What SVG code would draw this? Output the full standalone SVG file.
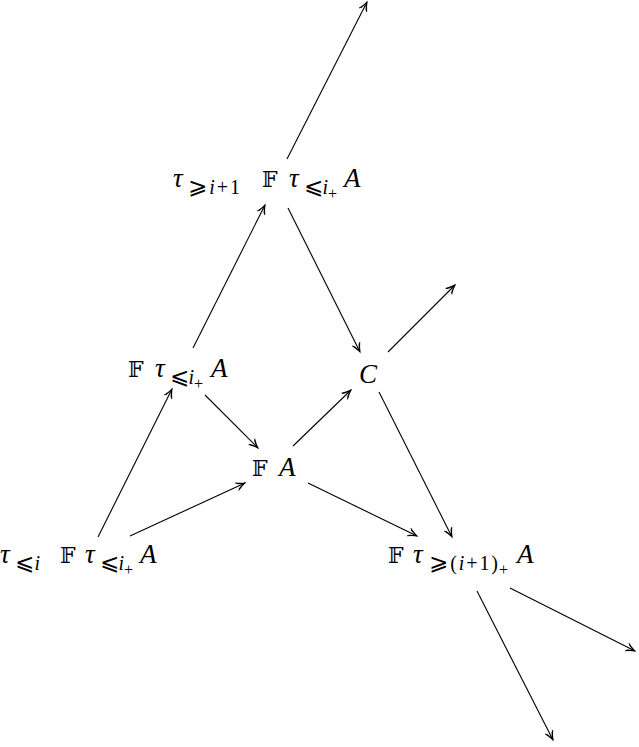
<svg xmlns="http://www.w3.org/2000/svg" width="639" height="747" viewBox="0 0 639 747">
<style>
text{font-family:"Liberation Serif","DejaVu Serif",serif;fill:#000}
.m{font-size:27px;font-style:italic}
.s{font-size:20px;font-style:italic}
.ss{font-size:16px}
.r{font-style:normal}
.bb{font-family:"DejaVu Serif","DejaVu Sans",serif;font-size:22px;font-style:normal}
.sym{font-family:"DejaVu Sans","Liberation Serif",serif;font-style:normal;font-size:23px}
line{stroke:#000;stroke-width:1.1;fill:none;marker-end:url(#ah)}
</style>
<defs>
<marker id="ah" markerUnits="userSpaceOnUse" markerWidth="14" markerHeight="12" refX="0" refY="0" viewBox="-10 -6 12 12" orient="auto" overflow="visible">
<path d="M-9,-4.2 Q-4,-1.2 0,0 Q-4,1.2 -9,4.2 M-8,-3 Q-4,-0.8 0,0 M-8,3 Q-4,0.8 0,0" fill="none" stroke="#000" stroke-width="1"/>
</marker>
</defs>
<g id="connectors">
<line x1="98" y1="537" x2="172" y2="389"/>
<line x1="130" y1="536" x2="245" y2="483"/>
<line x1="193" y1="348" x2="265" y2="205"/>
<line x1="205" y1="395" x2="258" y2="448"/>
<line x1="287" y1="159" x2="367" y2="2"/>
<line x1="288" y1="208" x2="360" y2="352"/>
<line x1="293" y1="446" x2="351" y2="390"/>
<line x1="388" y1="352" x2="455" y2="285"/>
<line x1="308" y1="483" x2="417" y2="536"/>
<line x1="379" y1="392" x2="452" y2="537"/>
<line x1="510" y1="588" x2="635" y2="651"/>
<line x1="477" y1="591" x2="553" y2="740"/>
</g>
<g id="n1">
<text class="m" x="173" y="187">τ</text>
<text class="s" x="188" y="194" textLength="52"><tspan class="sym">⩾</tspan>i<tspan class="r">+1</tspan></text>
<text class="bb" x="262" y="187">𝔽</text>
<text class="m" x="289" y="187">τ</text>
<text class="s" x="304" y="194" textLength="24"><tspan class="sym">⩽</tspan>i</text>
<text class="ss" x="328" y="199">+</text>
<text class="m" x="344" y="187">A</text>
</g>
<g id="n2">
<text class="bb" x="128" y="377">𝔽</text>
<text class="m" x="155" y="377">τ</text>
<text class="s" x="170" y="384" textLength="24"><tspan class="sym">⩽</tspan>i</text>
<text class="ss" x="194" y="389">+</text>
<text class="m" x="211" y="377">A</text>
</g>
<g id="n3">
<text class="m" x="0" y="563">τ</text>
<text class="s" x="15" y="570" textLength="25"><tspan class="sym">⩽</tspan>i</text>
<text class="bb" x="60" y="563">𝔽</text>
<text class="m" x="85" y="563">τ</text>
<text class="s" x="100" y="570" textLength="24"><tspan class="sym">⩽</tspan>i</text>
<text class="ss" x="124" y="575">+</text>
<text class="m" x="140" y="563">A</text>
</g>
<g id="n4">
<text class="bb" x="388" y="563">𝔽</text>
<text class="m" x="413" y="563">τ</text>
<text class="s" x="429" y="570" textLength="69"><tspan class="sym">⩾</tspan><tspan class="r">(</tspan>i<tspan class="r">+1)</tspan></text>
<text class="ss" x="499" y="575">+</text>
<text class="m" x="517" y="563">A</text>
</g>
<g id="n5">
<text class="bb" x="252" y="476">𝔽</text>
<text class="m" x="279" y="476">A</text>
</g>
<g id="n6">
<text class="m" x="359" y="383">C</text>
</g>
</svg>
